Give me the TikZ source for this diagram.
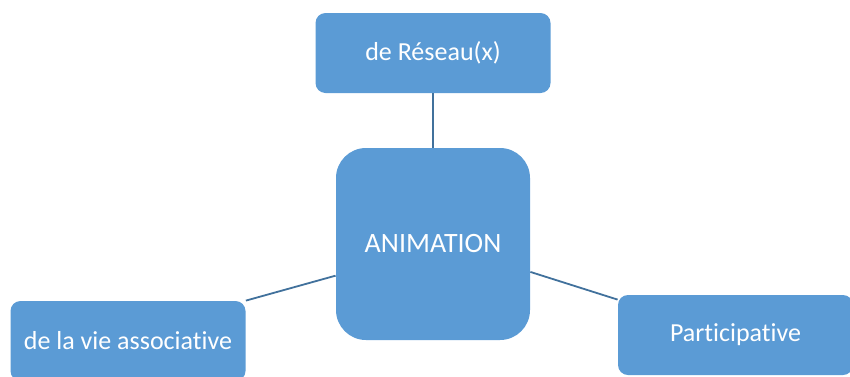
\documentclass[tikz,border=0pt]{standalone}
\usepackage{fontspec}
\setmainfont{Carlito}[Ligatures={NoCommon,NoRare,NoContextual}]
\usetikzlibrary{calc}
\definecolor{boxblue}{HTML}{5B9BD5}
\definecolor{lineblue}{HTML}{41719C}
\tikzset{
  blockbox/.style={fill=boxblue, text=white, rounded corners=5pt, minimum width=117.5pt, minimum height=40pt, inner sep=0pt, font=\fontsize{13}{15}\selectfont},
  link/.style={draw=lineblue, line width=0.9pt}
}

\begin{document}
\begin{tikzpicture}[x=0.5pt,y=-0.5pt]
		%%%%% START %%%%%
		\useasboundingbox (0,0) rectangle (850,376);
		
		\node[blockbox] (reseau) at (433, 53) {de Réseau(x)};
		\node[blockbox, minimum width=97pt, minimum height=96pt, rounded corners=15pt, font=\fontsize{14}{16}\selectfont] (animation) at (433, 244) {ANIMATION};
		\node[blockbox] (vie) at (128, 341) {de la vie associative};
		\node[blockbox] (participative) at (735.5, 335) {Participative};
		
		\draw[link] (reseau.south) -- (animation.north);
		\draw[link] (vie.north east) -- (animation.198);
		\draw[link] (animation.-16) -- ($(participative.north west)+(0,5)$);
		
		%%%%% END %%%%%
\end{tikzpicture}
\end{document}
